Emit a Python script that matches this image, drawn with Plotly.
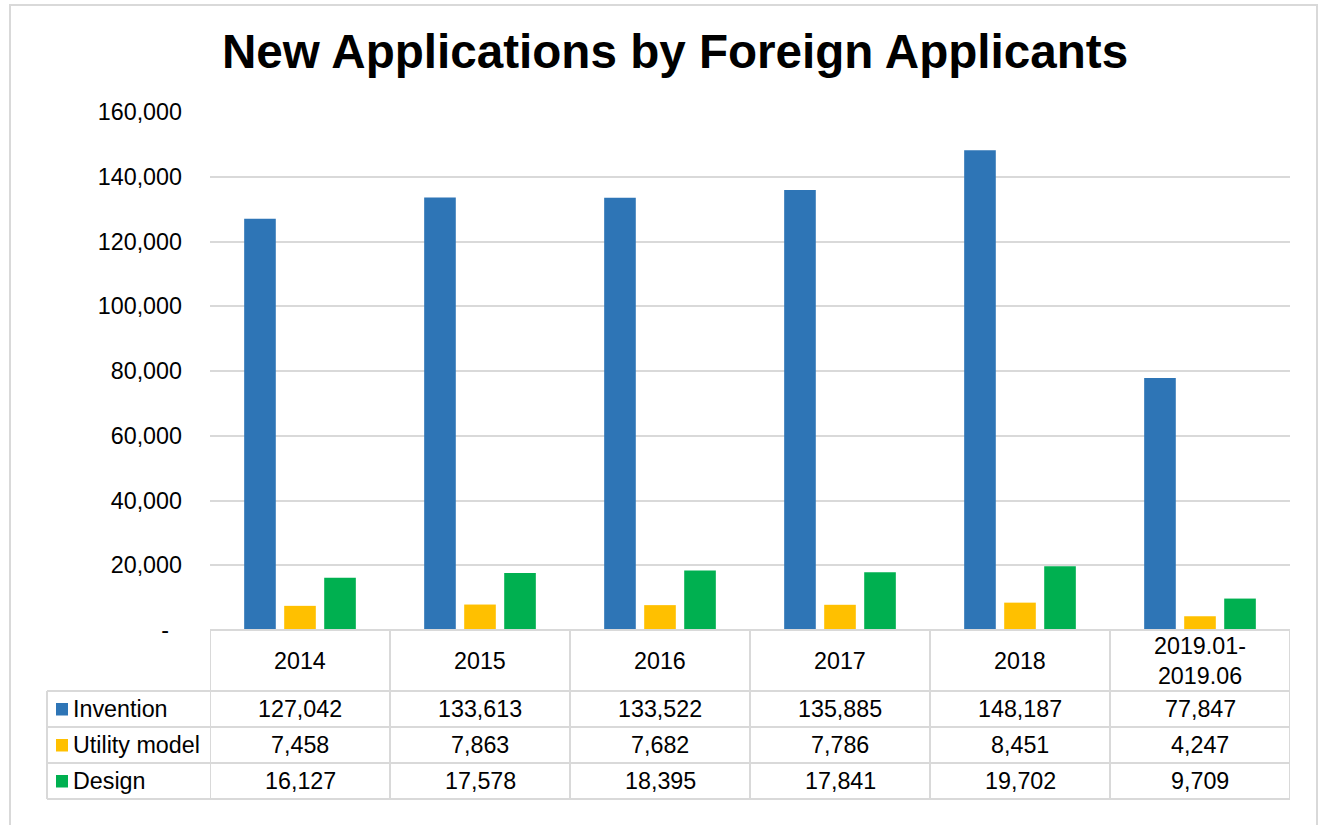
import plotly.graph_objects as go

categories = ["2014", "2015", "2016", "2017", "2018", "2019.01-<br>2019.06"]
series_names = ["Invention", "Utility model", "Design"]
invention = [127042, 133613, 133522, 135885, 148187, 77847]
utility = [7458, 7863, 7682, 7786, 8451, 4247]
design = [16127, 17578, 18395, 17841, 19702, 9709]
colors = ["#2E75B6", "#FFC000", "#00B050"]
y_ticks = [0, 20000, 40000, 60000, 80000, 100000, 120000, 140000, 160000]
y_ticktext = ["-\u00a0\u00a0"] + [f"{v:,}" for v in y_ticks[1:]]
title = "New Applications by Foreign Applicants"

W, H = 1320, 825
FONT = "Liberation Sans, Arial, sans-serif"
GRID = "#D9D9D9"
FS = 23.3

def px(x):
    return x / W

def py(y):
    return (H - y) / H

plot_left, plot_right, plot_top, plot_bottom = 210, 1290, 112, 630
table_left = 47
row_lines = [630, 691, 727, 763, 799]

xs = list(range(len(categories)))
fig = go.Figure()
for name, vals, col in zip(series_names, [invention, utility, design], colors):
    fig.add_trace(go.Bar(x=xs, y=vals, name=name, marker=dict(color=col, line=dict(width=0)),
                         showlegend=False))

shapes = []
annotations = []
# outer border
shapes.append(dict(type="rect", xref="paper", yref="paper", x0=px(10), x1=px(1317), y0=py(832), y1=py(5),
                   line=dict(color=GRID, width=2), fillcolor="rgba(0,0,0,0)", layer="below"))
# horizontal table lines
for i, yl in enumerate(row_lines):
    if i == 0:
        shapes.append(dict(type="line", xref="x", yref="paper", x0=-0.5, x1=len(categories) - 0.5,
                           y0=py(yl), y1=py(yl), line=dict(color=GRID, width=2)))
    else:
        shapes.append(dict(type="line", xref="paper", yref="paper", x0=px(table_left), x1=px(plot_right),
                           y0=py(yl), y1=py(yl), line=dict(color=GRID, width=2)))
# vertical lines at category boundaries
for i in range(len(categories) + 1):
    shapes.append(dict(type="line", xref="x", yref="paper", x0=i - 0.5, x1=i - 0.5,
                       y0=py(row_lines[0]), y1=py(row_lines[-1]), line=dict(color=GRID, width=2)))
shapes.append(dict(type="line", xref="paper", yref="paper", x0=px(table_left), x1=px(table_left),
                   y0=py(row_lines[1]), y1=py(row_lines[-1]), line=dict(color=GRID, width=2)))

# header cells
hc = (row_lines[0] + row_lines[1]) / 2
for i, c in enumerate(categories):
    annotations.append(dict(x=i, y=py(hc), xref="x", yref="paper", text=c, showarrow=False,
                            font=dict(family=FONT, size=FS, color="#000000"), yanchor="middle"))
# data rows
for r, (name, vals, col) in enumerate(zip(series_names, [invention, utility, design], colors)):
    yc = (row_lines[r + 1] + row_lines[r + 2]) / 2
    for i, v in enumerate(vals):
        annotations.append(dict(x=i, y=py(yc), xref="x", yref="paper", text=f"{v:,}", showarrow=False,
                                font=dict(family=FONT, size=FS, color="#000000"), yanchor="middle"))
    shapes.append(dict(type="rect", xref="paper", yref="paper", x0=px(56), x1=px(68),
                       y0=py(yc + 6.5), y1=py(yc - 6), fillcolor=col, line=dict(width=0)))
    annotations.append(dict(x=px(71), y=py(yc), xref="paper", yref="paper", text=name, showarrow=False,
                            xanchor="left", yanchor="middle",
                            font=dict(family=FONT, size=FS, color="#000000")))

annotations.append(dict(x=px(675), y=py(52), xref="paper", yref="paper", text=f"<b>{title}</b>",
                        showarrow=False, xanchor="center", yanchor="middle",
                        font=dict(family=FONT, size=47.6, color="#000000")))

fig.update_layout(
    width=W, height=H,
    margin=dict(l=0, r=0, t=0, b=0, pad=0, autoexpand=False),
    showlegend=False,
    paper_bgcolor="white", plot_bgcolor="white",
    barmode="group", bargap=0.333, bargroupgap=0.21,
    xaxis=dict(domain=[px(plot_left), px(plot_right)], range=[-0.5, len(categories) - 0.5],
               showticklabels=False, showgrid=False, zeroline=False, showline=False, fixedrange=True,
               automargin=False),
    yaxis=dict(domain=[py(plot_bottom), py(plot_top)], range=[0, 160000], tickvals=y_ticks,
               ticktext=y_ticktext, showgrid=True, gridcolor=GRID, gridwidth=1.5, zeroline=False,
               showline=False, ticks="", ticklabelstandoff=27, automargin=False,
               tickfont=dict(family=FONT, size=FS, color="#000000")),
    shapes=shapes, annotations=annotations,
    font=dict(family=FONT),
)

post = (
    "document.documentElement.style.margin='0';document.documentElement.style.padding='0';"
    "document.documentElement.style.overflow='hidden';"
    "document.body.style.margin='0';document.body.style.padding='0';document.body.style.overflow='hidden';"
    "var gd=document.getElementById('{plot_id}');"
    "gd.style.position='fixed';gd.style.top='0px';gd.style.left='0px';"
)

fig.write_html("out.html", config={"displayModeBar": False}, post_script=post)
